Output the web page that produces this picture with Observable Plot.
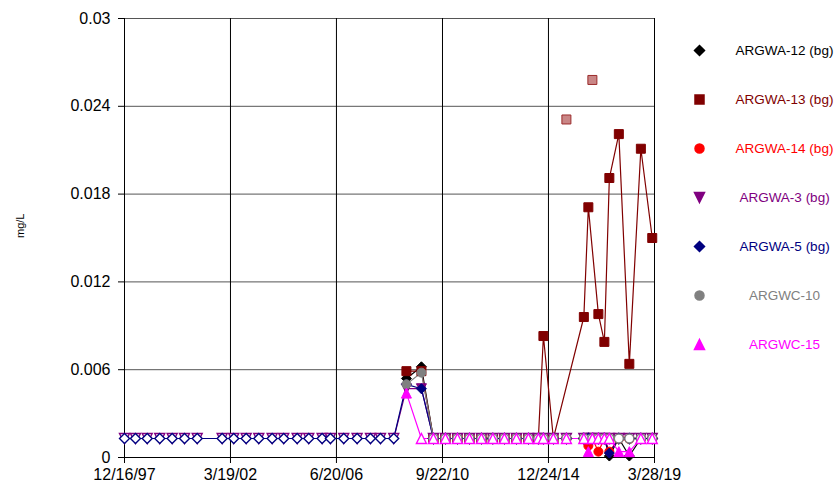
<!DOCTYPE html>
<html><head><meta charset="utf-8">
<script src="https://cdn.jsdelivr.net/npm/d3@7"></script>
<script src="https://cdn.jsdelivr.net/npm/@observablehq/plot@0.6"></script>
<style>
body{margin:0;background:#fff;}
#wrap{position:relative;width:835px;height:490px;font-family:"Liberation Sans",Arial,sans-serif;}
#legend{position:absolute;left:660px;top:0;}
#main{position:absolute;left:0;top:0;}
</style></head><body><div id="wrap"><div id="main"></div><div id="legend"></div></div>
<script>
// ---------- data ----------
const seriesNames = ["ARGWA-12 (bg)","ARGWA-13 (bg)","ARGWA-14 (bg)","ARGWA-3 (bg)","ARGWA-5 (bg)","ARGWC-10","ARGWC-15"];
const seriesColors = ["#000000","#800000","#FF0000","#800080","#000080","#808080","#FF00FF"];
const seriesShapes = ["diamond","square","circle","triangleDown","diamond","circle","triangle"];
const ndLevel = 0.0013; // non-detects are plotted hollow at the reporting level

const earlyDates = ["1997-12-16","1998-05-26","1998-11-14","1999-05-17","1999-11-15","2000-05-14","2000-11-16","2001-11-17","2002-05-06","2002-11-04","2003-05-08","2003-11-20","2004-05-08","2004-11-21","2005-05-10","2005-11-22","2006-03-24","2006-10-05","2007-04-19","2007-11-01","2008-03-27","2008-10-07"];
const dates2009 = ["2009-04-11","2009-11-17"];
const lateDates = ["2010-05-12","2010-11-04","2011-04-29","2011-10-22","2012-04-15","2012-09-30","2013-03-18","2013-09-10","2014-03-05","2014-07-29","2014-10-11","2015-03-06","2015-09-13","2016-05-26","2016-07-31","2016-09-28","2016-12-25","2017-03-23","2017-06-04","2017-10-21","2018-03-24","2018-09-09","2019-02-23"];

// "ND" = not detected, null = no sample
const argwa12Values = [0.0054,0.0062, "ND","ND","ND","ND","ND","ND","ND","ND","ND","ND","ND","ND","ND","ND","ND","ND","ND","ND",0.0001,"ND",0.0001,"ND","ND"];
const argwa13Values = [0.0059,0.0059, "ND","ND","ND","ND","ND","ND","ND","ND","ND","ND",0.0083,"ND",null,0.0096,0.0171,null,0.0098,0.0079,0.0191,0.0221,0.0064,0.0211,0.0150];
const argwa13OutlierDates = ["2015-09-13","2016-09-28"];
const argwa13OutlierValues = [0.0231, 0.0258];
const argwa14Values = ["ND","ND","ND","ND","ND","ND","ND","ND","ND","ND","ND","ND","ND","ND",0.0008,"ND",0.0004,"ND",0.0004,"ND","ND","ND","ND"];
const argwa3Values = ["ND","ND","ND","ND","ND","ND","ND","ND","ND","ND","ND","ND","ND","ND","ND","ND","ND","ND","ND","ND","ND","ND", 0.0047,0.0047, "ND","ND","ND","ND","ND","ND","ND","ND","ND","ND","ND","ND","ND","ND","ND","ND","ND","ND","ND","ND","ND","ND","ND"];
const argwa5Values = ["ND","ND","ND","ND","ND","ND","ND","ND","ND","ND","ND","ND","ND","ND","ND","ND","ND","ND","ND","ND","ND","ND", 0.0050,0.0047, "ND","ND","ND","ND","ND","ND","ND","ND","ND","ND","ND","ND","ND","ND","ND","ND","ND","ND",0.0003,"ND","ND","ND","ND"];
const argwc10Values = [0.0050,0.0058, "ND","ND","ND","ND","ND","ND","ND","ND","ND","ND","ND","ND","ND","ND",null,"ND","ND","ND","ND","ND","ND","ND","ND"];
const argwc15Values = [0.0044,"ND", "ND","ND","ND","ND","ND","ND","ND","ND","ND","ND","ND","ND","ND","ND",0.0004,"ND","ND","ND","ND",0.0004,0.0004,"ND","ND"];

const seriesDates = [
  [...dates2009, ...lateDates],
  [...dates2009, ...lateDates],
  [...lateDates],
  [...earlyDates, ...dates2009, ...lateDates],
  [...earlyDates, ...dates2009, ...lateDates],
  [...dates2009, ...lateDates],
  [...dates2009, ...lateDates]
];
const seriesValues = [argwa12Values, argwa13Values, argwa14Values, argwa3Values, argwa5Values, argwc10Values, argwc15Values];

const yTicks = [0, 0.006, 0.012, 0.018, 0.024, 0.03];
const yTickLabels = ["0","0.006","0.012","0.018","0.024","0.03"];
const xTickDates = ["1997-12-16","2002-03-19","2006-06-20","2010-09-22","2014-12-24","2019-03-28"];
const xTickLabels = ["12/16/97","3/19/02","6/20/06","9/22/10","12/24/14","3/28/19"];

// ---------- symbols ----------
function rad(size){ return Math.sqrt(size/Math.PI); }
const symbols = {
  diamond: {draw(c,s){const r=rad(s); c.moveTo(0,-r); c.lineTo(r,0); c.lineTo(0,r); c.lineTo(-r,0); c.closePath();}},
  square: {draw(c,s){const h=rad(s)*0.9; c.moveTo(-h,-h); c.lineTo(h,-h); c.lineTo(h,h); c.lineTo(-h,h); c.closePath();}},
  circle: {draw(c,s){const r=rad(s)*0.9; c.moveTo(r,0); c.arc(0,0,r,0,2*Math.PI); c.closePath();}},
  triangle: {draw(c,s){const r=rad(s); c.moveTo(0,-r); c.lineTo(r,r); c.lineTo(-r,r); c.closePath();}},
  triangleDown: {draw(c,s){const r=rad(s); c.moveTo(0,r); c.lineTo(r,-r); c.lineTo(-r,-r); c.closePath();}}
};

// ---------- build rows ----------
const rows = seriesNames.map((name, i) => seriesDates[i].map((d, j) => {
  const v = seriesValues[i][j];
  if (v === null || v === undefined) return null;
  const nd = v === "ND";
  return {name, date: new Date(d), nd, y: nd ? ndLevel : v};
}).filter(Boolean));
const outliers = argwa13OutlierDates.map((d, i) => ({date: new Date(d), y: argwa13OutlierValues[i]}));

const yLab = new Map(yTicks.map((t, i) => [t, yTickLabels[i]]));
const xTicks = xTickDates.map(d => new Date(d));
const xLab = new Map(xTicks.map((t, i) => [t.getTime(), xTickLabels[i]]));

const lineMarks = rows.map((r, i) => Plot.line(r, {x: "date", y: "y", stroke: seriesColors[i], strokeWidth: 1.2}));
const dotMarks = rows.flatMap((r, i) => [
  Plot.dot(r.filter(d => d.nd), {x: "date", y: "y", symbol: symbols[seriesShapes[i]], r: 5, fill: "white", stroke: seriesColors[i], strokeWidth: 1.4}),
  Plot.dot(r.filter(d => !d.nd), {x: "date", y: "y", symbol: symbols[seriesShapes[i]], r: 5, fill: seriesColors[i], stroke: seriesColors[i], strokeWidth: 1})
]);

const main = Plot.plot({
  width: 835, height: 490,
  marginLeft: 124, marginRight: 181, marginTop: 18, marginBottom: 33,
  style: {fontFamily: '"Liberation Sans", Arial, sans-serif', fontSize: "16px", color: "#000", background: "#fff", overflow: "visible"},
  x: {type: "utc", domain: [new Date("1997-12-16"), new Date("2019-03-28")]},
  y: {domain: [0, 0.03]},
  marks: [
    Plot.ruleY(yTicks.slice(1), {stroke: "#555", strokeWidth: 1}),
    Plot.ruleX(xTicks, {stroke: "#000", strokeWidth: 1}),
    Plot.ruleY([0], {stroke: "#000", strokeWidth: 1.2}),
    Plot.axisY({ticks: yTicks, tickFormat: d => yLab.get(d), tickSize: 6, tickPadding: 8, label: null, fontSize: 16}),
    Plot.axisX({ticks: xTicks, tickFormat: d => xLab.get(d.getTime()), tickSize: 6, tickPadding: 5, label: null, fontSize: 16}),
    Plot.text(["mg/L"], {frameAnchor: "left", dx: -104, rotate: -90, fontSize: 11, fill: "#000"}),
    ...lineMarks,
    ...dotMarks,
    Plot.dot(outliers, {x: "date", y: "y", symbol: symbols.square, r: 5, fill: "#c98686", stroke: "#9b2b2b", strokeWidth: 1})
  ]
});
document.getElementById("main").appendChild(main);

// ---------- legend ----------
const legendRows = seriesNames.map((name, i) => ({name}));
const legend = Plot.plot({
  width: 175, height: 370, margin: 0,
  style: {fontFamily: '"Liberation Sans", Arial, sans-serif', background: "transparent", overflow: "visible"},
  x: {domain: [0, 1], range: [39, 124], axis: null},
  y: {type: "point", domain: seriesNames, range: [49, 345], padding: 0, axis: null},
  color: {domain: seriesNames, range: seriesColors},
  marks: [
    ...seriesNames.map((name, i) => Plot.dot([legendRows[i]], {x: () => 0, y: "name", symbol: symbols[seriesShapes[i]], r: 5, fill: seriesColors[i], stroke: seriesColors[i]})),
    Plot.text(legendRows, {x: () => 1, y: "name", text: "name", fill: "name", fontSize: 13.5, textAnchor: "middle"})
  ]
});
document.getElementById("legend").appendChild(legend);
</script>
</body></html>
